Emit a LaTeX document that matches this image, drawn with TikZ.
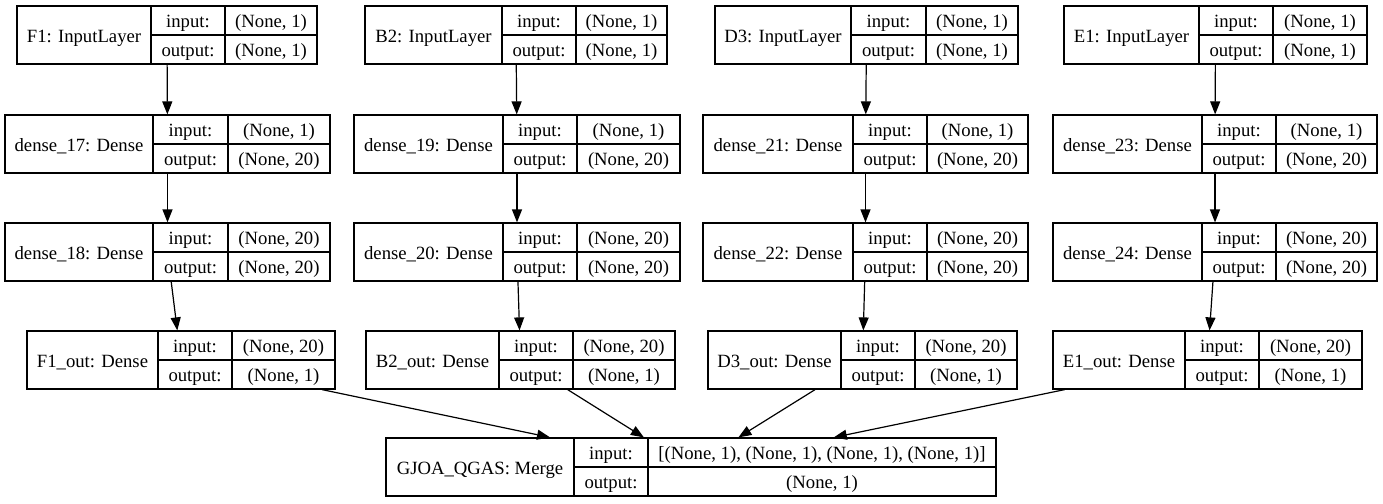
\documentclass[tikz,border=0pt]{standalone}
\usepackage{fontspec}
\setmainfont{Liberation Serif}
\usetikzlibrary{arrows.meta}

% one layer record: name, x left, x split 1, x split 2, x right, y top, label, input, output
\newcommand{\layerrec}[9]{%
  \node[recbox, minimum width={(#5-#2)*1pt}] (#1) at ({(#2+#5)/2},{#6+29}) {};
  \draw[recline] (#3,#6) -- (#3,{#6+58});
  \draw[recline] (#4,#6) -- (#4,{#6+58});
  \draw[recline] (#3,{#6+29}) -- (#5,{#6+29});
  \node[rectext] (#1-lbl) at ({(#2+#3)/2},{#6+36}) {#7};
  \node[rectext] (#1-in) at ({(#3+#4)/2},{#6+21.5}) {input:};
  \node[rectext] (#1-out) at ({(#3+#4)/2},{#6+50.5}) {output:};
  \node[rectext] (#1-inv) at ({(#4+#5)/2},{#6+21.5}) {#8};
  \node[rectext] (#1-outv) at ({(#4+#5)/2},{#6+50.5}) {#9};
}

\begin{document}
\begin{tikzpicture}[
  x=1pt, y=-1pt,
  >={Triangle[length=13pt, width=10pt]},
  recbox/.style={draw, line width=1.2pt, minimum height=58pt, inner sep=0pt},
  recline/.style={line width=1.2pt},
  rectext/.style={anchor=base, inner sep=0pt, font=\fontsize{18.7}{22}\selectfont},
  edge/.style={->, line width=1.2pt},
]

% Canvas
\useasboundingbox (0,0) rectangle (1383,503);

% --- Column F1 ---
\layerrec{f1}{17}{151}{225}{317}{6}{F1: InputLayer}{(None, 1)}{(None, 1)}
\layerrec{d17}{5}{153}{228}{330}{115}{dense\_17: Dense}{(None, 1)}{(None, 20)}
\layerrec{d18}{5}{153}{228}{330}{223}{dense\_18: Dense}{(None, 20)}{(None, 20)}
\layerrec{f1out}{27}{158}{232}{335}{331}{F1\_out: Dense}{(None, 20)}{(None, 1)}

% --- Column B2 ---
\layerrec{b2}{365}{502}{576}{667}{6}{B2: InputLayer}{(None, 1)}{(None, 1)}
\layerrec{d19}{354}{503}{577}{680}{115}{dense\_19: Dense}{(None, 1)}{(None, 20)}
\layerrec{d20}{354}{503}{577}{680}{223}{dense\_20: Dense}{(None, 20)}{(None, 20)}
\layerrec{b2out}{366}{499}{573}{675}{331}{B2\_out: Dense}{(None, 20)}{(None, 1)}

% --- Column D3 ---
\layerrec{d3}{715}{851}{926}{1018}{6}{D3: InputLayer}{(None, 1)}{(None, 1)}
\layerrec{d21}{703}{853}{927}{1028}{115}{dense\_21: Dense}{(None, 1)}{(None, 20)}
\layerrec{d22}{703}{853}{927}{1028}{223}{dense\_22: Dense}{(None, 20)}{(None, 20)}
\layerrec{d3out}{708}{841}{915}{1017}{331}{D3\_out: Dense}{(None, 20)}{(None, 1)}

% --- Column E1 ---
\layerrec{e1}{1064}{1199}{1273}{1367}{6}{E1: InputLayer}{(None, 1)}{(None, 1)}
\layerrec{d23}{1053}{1202}{1276}{1377}{115}{dense\_23: Dense}{(None, 1)}{(None, 20)}
\layerrec{d24}{1053}{1202}{1276}{1377}{223}{dense\_24: Dense}{(None, 20)}{(None, 20)}
\layerrec{e1out}{1053}{1185}{1259}{1362}{331}{E1\_out: Dense}{(None, 20)}{(None, 1)}

% --- Merge ---
\layerrec{merge}{386}{574}{648}{996}{438}{GJOA\_QGAS: Merge}{[(None, 1), (None, 1), (None, 1), (None, 1)]}{(None, 1)}

% Edges
\draw[edge] (f1) -- (d17);
\draw[edge] (d17) -- (d18);
\draw[edge] (d18) -- (f1out);
\draw[edge] (b2) -- (d19);
\draw[edge] (d19) -- (d20);
\draw[edge] (d20) -- (b2out);
\draw[edge] (d3) -- (d21);
\draw[edge] (d21) -- (d22);
\draw[edge] (d22) -- (d3out);
\draw[edge] (e1) -- (d23);
\draw[edge] (d23) -- (d24);
\draw[edge] (d24) -- (e1out);
\draw[edge] (f1out) -- (merge);
\draw[edge] (b2out) -- (merge);
\draw[edge] (d3out) -- (merge);
\draw[edge] (e1out) -- (merge);

\end{tikzpicture}
\end{document}
